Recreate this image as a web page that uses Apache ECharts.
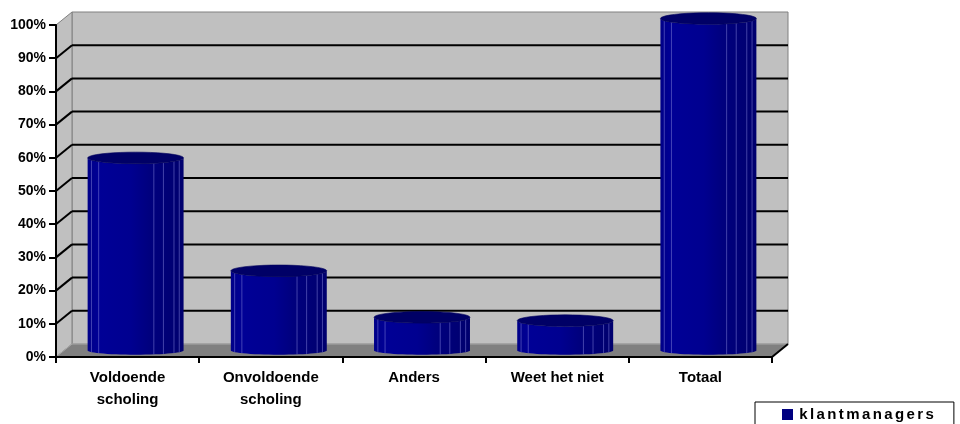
<!DOCTYPE html>
<html>
<head>
<meta charset="utf-8">
<script src="https://cdn.jsdelivr.net/npm/echarts@6.0.0/dist/echarts.min.js"></script>
<style>
  html, body { margin: 0; padding: 0; background: #fff; }
  #chart { width: 960px; height: 424px; }
</style>
</head>
<body>
<div id="chart"></div>
<script>
// Categories along the floor of the chart
const categories = ['Voldoende\nscholing', 'Onvoldoende\nscholing', 'Anders', 'Weet het niet', 'Totaal'];
// Share of respondents per answer, in percent
const shares = [58, 24, 10, 9, 100];
// Percent levels marked on the value axis and the walls
const percentTicks = [0, 10, 20, 30, 40, 50, 60, 70, 80, 90, 100];
const seriesName = 'klantmanagers';

// Depth of the 3D box (back wall is shifted right and up)
const DX = 16, DY = -13;
const FONT = '"Liberation Sans", Arial, sans-serif';

function ellipsePts(cx, cy, rx, ry, a0, a1, n) {
  const pts = [];
  for (let k = 0; k <= n; k++) {
    const a = a0 + (a1 - a0) * k / n;
    pts.push([cx + rx * Math.cos(a), cy + ry * Math.sin(a)]);
  }
  return pts;
}

// Walls, floor and gridlines of the box
function renderWalls(params, api) {
  const cs = params.coordSys;
  const x0 = cs.x, x1 = cs.x + cs.width;
  const yTop = cs.y, yBot = cs.y + cs.height;
  const children = [];
  children.push({
    type: 'rect',
    shape: { x: x0 + DX, y: yTop + DY, width: cs.width, height: cs.height },
    style: { fill: '#c0c0c0', stroke: '#808080', lineWidth: 1 }
  });
  children.push({
    type: 'polygon',
    shape: { points: [[x0, yBot], [x0, yTop], [x0 + DX, yTop + DY], [x0 + DX, yBot + DY]] },
    style: { fill: '#c0c0c0', stroke: '#808080', lineWidth: 1 }
  });
  children.push({
    type: 'polygon',
    shape: { points: [[x0, yBot], [x1, yBot], [x1 + DX, yBot + DY], [x0 + DX, yBot + DY]] },
    style: { fill: '#808080', stroke: '#a8a8a8', lineWidth: 1 }
  });
  children.push({
    type: 'line',
    shape: { x1: x1, y1: yBot, x2: x1 + DX, y2: yBot + DY },
    style: { stroke: '#000', lineWidth: 2 }
  });
  percentTicks.forEach(function (t) {
    if (t === percentTicks[0] || t === percentTicks[percentTicks.length - 1]) return;
    const y = api.coord([0, t])[1];
    children.push({
      type: 'line',
      shape: { x1: x0 + DX, y1: y + DY, x2: x1 + DX, y2: y + DY },
      style: { stroke: '#000', lineWidth: 2 }
    });
    children.push({
      type: 'line',
      shape: { x1: x0, y1: y, x2: x0 + DX, y2: y + DY },
      style: { stroke: '#000', lineWidth: 2 }
    });
  });
  return { type: 'group', children: children };
}

// One cylinder per category, standing in the middle of the box depth
const FACETS = [-0.92, -0.77, 0.38, 0.58, 0.80, 0.91];
function renderCylinder(params, api) {
  const i = api.value(0), v = api.value(1);
  const pTop = api.coord([i, v]);
  const pBase = api.coord([i, 0]);
  const band = api.size([1, 0])[0];
  const r = band * 0.335;
  const cx = pTop[0] + DX / 2;
  const ty = pTop[1] + DY / 2;
  const by = pBase[1] + DY / 2;
  const ryT = 5.8, ryB = 4.2;

  const body = [[cx - r, ty]]
    .concat(ellipsePts(cx, by, r, ryB, Math.PI, 0, 30))
    .concat([[cx + r, ty]])
    .concat(ellipsePts(cx, ty, r, ryT, 0, Math.PI, 30));

  const children = [{
    type: 'polygon',
    shape: { points: body },
    style: {
      fill: {
        type: 'linear', x: 0, y: 0, x2: 1, y2: 0,
        colorStops: [
          { offset: 0, color: '#000088' },
          { offset: 0.12, color: '#000096' },
          { offset: 0.45, color: '#000090' },
          { offset: 0.65, color: '#00007e' },
          { offset: 1, color: '#00006e' }
        ]
      }
    }
  }];
  FACETS.forEach(function (f) {
    const s = Math.sqrt(1 - f * f);
    children.push({
      type: 'line',
      shape: { x1: cx + r * f, y1: ty + ryT * s, x2: cx + r * f, y2: by + ryB * s },
      style: { stroke: 'rgba(120,120,210,0.55)', lineWidth: 1 }
    });
  });
  children.push({
    type: 'polygon',
    shape: { points: ellipsePts(cx, ty, r, ryT, 0, Math.PI * 2, 40) },
    style: { fill: '#000066', stroke: '#00005a', lineWidth: 0.6 }
  });
  return { type: 'group', children: children };
}

const chart = echarts.init(document.getElementById('chart'), null, { renderer: 'canvas' });
chart.setOption({
  animation: false,
  backgroundColor: '#ffffff',
  grid: { left: 56, top: 25, width: 716, height: 332, containLabel: false },
  legend: {
    left: 755, top: 402,
    data: [seriesName],
    icon: 'rect',
    itemWidth: 11, itemHeight: 11,
    padding: [5, 20, 10, 27],
    borderColor: '#000', borderWidth: 1,
    backgroundColor: '#fff',
    formatter: function (name) {
      return name.split('').map(function (c) { return '{c|' + c + '}'; }).join('');
    },
    textStyle: {
      rich: {
        c: { fontFamily: FONT, fontWeight: 'bold', fontSize: 15, color: '#000', padding: [0, 1.2, 0, 1.2] }
      }
    }
  },
  xAxis: {
    type: 'category',
    data: categories,
    z: 5,
    axisLine: { show: true, lineStyle: { color: '#000', width: 2 } },
    axisTick: { show: true, length: 6, lineStyle: { color: '#000', width: 2 } },
    axisLabel: {
      interval: 0, margin: 10,
      fontFamily: FONT, fontWeight: 'bold', fontSize: 15, lineHeight: 22, color: '#000'
    },
    splitLine: { show: false }
  },
  yAxis: {
    type: 'value',
    min: percentTicks[0], max: percentTicks[percentTicks.length - 1], interval: 10,
    z: 5,
    axisLine: { show: true, lineStyle: { color: '#000', width: 2 } },
    axisTick: { show: true, length: 7, lineStyle: { color: '#000', width: 2 } },
    axisLabel: {
      margin: 10, formatter: '{value}%',
      fontFamily: FONT, fontWeight: 'bold', fontSize: 14, color: '#000'
    },
    splitLine: { show: false }
  },
  series: [
    {
      type: 'custom',
      name: 'walls',
      z: 1,
      silent: true,
      renderItem: renderWalls,
      data: [[0, 0]],
      encode: { x: 0, y: 1 }
    },
    {
      type: 'custom',
      name: seriesName,
      z: 3,
      itemStyle: { color: '#000080' },
      renderItem: renderCylinder,
      data: shares.map(function (v, i) { return [i, v]; }),
      encode: { x: 0, y: 1 }
    }
  ]
});
</script>
</body>
</html>
